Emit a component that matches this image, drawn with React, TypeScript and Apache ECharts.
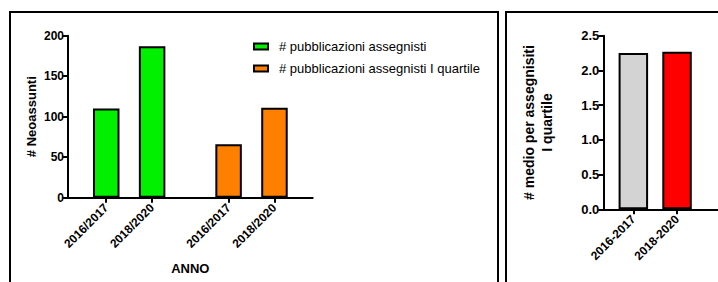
import React, { useEffect, useRef } from "react";
import * as echarts from "echarts";

// ---- data ----
const leftCategories = ["2016/2017", "2018/2020", "2016/2017", "2018/2020"];
const seriesNames = ["# pubblicazioni assegnisti", "# pubblicazioni assegnisti I quartile"];
const greenValues = [110, 187];
const orangeValues = [66, 111];
const leftTickValues = [0, 50, 100, 150, 200];
const rightCategories = ["2016-2017", "2018-2020"];
const rightValues = [2.25, 2.27];
const rightTickValues = [0, 0.5, 1.0, 1.5, 2.0, 2.5];

// ---- layout (slot positions along the category axes) ----
const LEFT_SLOTS = 16;
const LEFT_POS = [2, 5, 10, 13];
const RIGHT_SLOTS = 21;
const RIGHT_POS = [5, 13];
const LABEL_ROTATE = 45;

const FONT = "'Liberation Sans', Arial, sans-serif";

function slots(n: number) {
  return Array.from({ length: n }, (_, i) => "s" + i);
}

function placed(n: number, pos: number[], vals: (number | object)[]) {
  const arr: any[] = Array.from({ length: n }, () => "-");
  pos.forEach((p, i) => {
    arr[p] = vals[i];
  });
  return arr;
}

export default function App() {
  const ref = useRef<HTMLDivElement>(null);
  useEffect(() => {
    const chart = echarts.init(ref.current!, null, { renderer: "svg" });
    const leftLabelAt: Record<number, string> = {};
    LEFT_POS.forEach((p, i) => (leftLabelAt[p] = leftCategories[i]));
    const rightLabelAt: Record<number, string> = {};
    RIGHT_POS.forEach((p, i) => (rightLabelAt[p] = rightCategories[i]));

    const axisLine = { show: true, lineStyle: { color: "#000", width: 2 } };
    const axisTickY = { show: true, length: 5, lineStyle: { color: "#000", width: 2 } };

    chart.setOption({
      animation: false,
      textStyle: { fontFamily: FONT },
      graphic: [
        { type: "rect", shape: { x: 10, y: 12, width: 488, height: 300 }, style: { fill: "none", stroke: "#000", lineWidth: 2 } },
        { type: "rect", shape: { x: 506, y: 12, width: 260, height: 300 }, style: { fill: "none", stroke: "#000", lineWidth: 2 } },
      ],
      legend: {
        left: 253,
        top: 40,
        padding: 0,
        orient: "vertical",
        itemWidth: 14,
        itemHeight: 6,
        itemGap: 9,
        icon: "rect",
        data: seriesNames,
        textStyle: { fontFamily: FONT, fontSize: 13, color: "#000", padding: [0, 0, 0, 6] },
      },
      grid: [
        { left: 68, top: 35.7, width: 244.7, height: 162 },
        { left: 603.3, top: 35.7, width: RIGHT_SLOTS * 6.25, height: 173.6 },
      ],
      xAxis: [
        {
          type: "category",
          gridIndex: 0,
          data: slots(LEFT_SLOTS),
          axisLine,
          axisTick: {
            show: true,
            alignWithLabel: true,
            length: 5,
            interval: (i: number) => i in leftLabelAt,
            lineStyle: { color: "#000", width: 2 },
          },
          axisLabel: {
            interval: (i: number) => i in leftLabelAt,
            formatter: (_v: string, i: number) => leftLabelAt[i] ?? "",
            rotate: LABEL_ROTATE,
            fontWeight: "bold",
            fontSize: 12,
            color: "#000",
            margin: 8,
            fontFamily: FONT,
          },
          name: "ANNO",
          nameLocation: "middle",
          nameGap: 64,
          nameTextStyle: { fontWeight: "bold", fontSize: 13, color: "#000", fontFamily: FONT },
        },
        {
          type: "category",
          gridIndex: 1,
          data: slots(RIGHT_SLOTS),
          axisLine,
          axisTick: {
            show: true,
            alignWithLabel: true,
            length: 5,
            interval: (i: number) => i in rightLabelAt,
            lineStyle: { color: "#000", width: 2 },
          },
          axisLabel: {
            interval: (i: number) => i in rightLabelAt,
            formatter: (_v: string, i: number) => rightLabelAt[i] ?? "",
            rotate: LABEL_ROTATE,
            fontWeight: "bold",
            fontSize: 12,
            color: "#000",
            margin: 8,
            fontFamily: FONT,
          },
        },
      ],
      yAxis: [
        {
          type: "value",
          gridIndex: 0,
          min: leftTickValues[0],
          max: leftTickValues[leftTickValues.length - 1],
          interval: leftTickValues[1] - leftTickValues[0],
          axisLine,
          axisTick: axisTickY,
          splitLine: { show: false },
          axisLabel: { fontWeight: "bold", fontSize: 12, color: "#000", margin: 4, fontFamily: FONT },
          name: "# Neoassunti",
          nameLocation: "middle",
          nameRotate: 90,
          nameGap: 30,
          nameTextStyle: { fontWeight: "bold", fontSize: 13, color: "#000", fontFamily: FONT },
        },
        {
          type: "value",
          gridIndex: 1,
          min: rightTickValues[0],
          max: rightTickValues[rightTickValues.length - 1],
          interval: rightTickValues[1] - rightTickValues[0],
          axisLine,
          axisTick: axisTickY,
          splitLine: { show: false },
          axisLabel: {
            fontWeight: "bold",
            fontSize: 13,
            color: "#000",
            margin: 4,
            fontFamily: FONT,
            formatter: (v: number) => v.toFixed(1),
          },
          name: "# medio per assegnisiti\nI quartile",
          nameLocation: "middle",
          nameRotate: 90,
          nameGap: 47,
          nameTextStyle: { fontWeight: "bold", fontSize: 14, lineHeight: 18, color: "#000", fontFamily: FONT, align: "center" },
        },
      ],
      series: [
        {
          name: seriesNames[0],
          type: "bar",
          xAxisIndex: 0,
          yAxisIndex: 0,
          barWidth: 26.5,
          barGap: "-100%",
          itemStyle: { color: "#00f000", borderColor: "#000", borderWidth: 2 },
          data: placed(LEFT_SLOTS, LEFT_POS.slice(0, 2), greenValues),
        },
        {
          name: seriesNames[1],
          type: "bar",
          xAxisIndex: 0,
          yAxisIndex: 0,
          barWidth: 26.5,
          barGap: "-100%",
          itemStyle: { color: "#ff8000", borderColor: "#000", borderWidth: 2 },
          data: placed(LEFT_SLOTS, LEFT_POS.slice(2, 4), orangeValues),
        },
        {
          name: "medio",
          type: "bar",
          xAxisIndex: 1,
          yAxisIndex: 1,
          barWidth: 29.5,
          itemStyle: { borderColor: "#000", borderWidth: 2 },
          data: placed(RIGHT_SLOTS, RIGHT_POS, [
            { value: rightValues[0], itemStyle: { color: "#d3d3d3" } },
            { value: rightValues[1], itemStyle: { color: "#ff0000" } },
          ]),
        },
      ],
    });
    return () => chart.dispose();
  }, []);
  return (
    <div
      ref={ref}
      style={{ position: "absolute", left: 0, top: 0, width: 718, height: 282, background: "#fff" }}
    />
  );
}
